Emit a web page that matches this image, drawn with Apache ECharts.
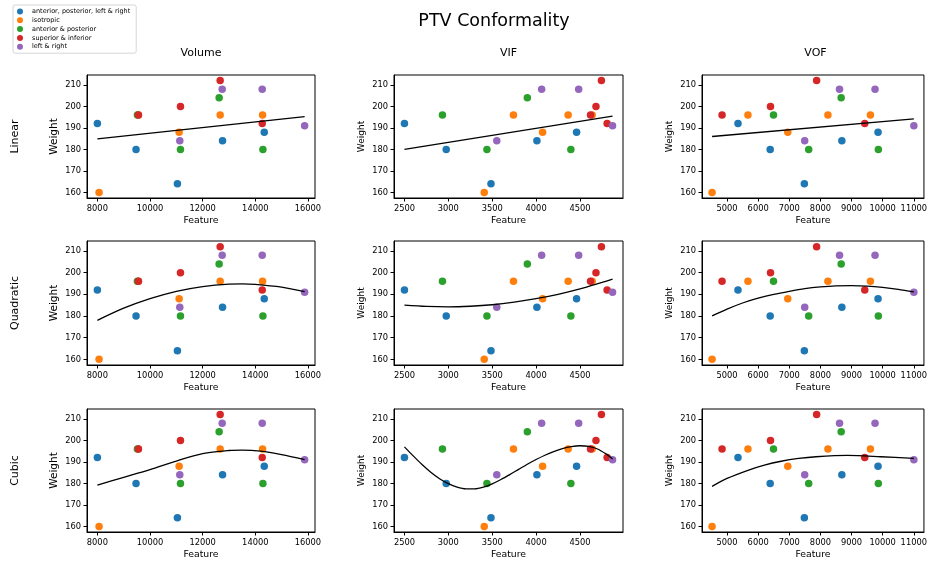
<!DOCTYPE html>
<html><head><meta charset="utf-8">
<script src="https://cdn.jsdelivr.net/npm/echarts@6/dist/echarts.min.js"></script>
<style>html,body{margin:0;padding:0;background:#fff}#c{width:930px;height:563px}</style>
</head><body><div id="c"></div>
<script>
// ---------- data ----------
const classes = ['anterior, posterior, left & right', 'isotropic', 'anterior & posterior', 'superior & inferior', 'left & right'];
const weights = [
  [192, 180, 164, 184, 188],
  [160, 196, 188, 196, 196],
  [196, 180, 204, 180],
  [196, 200, 212, 192],
  [184, 208, 208, 191]
];
const volume = [
  [8000, 9469, 11041, 12755, 14340],
  [8064, 9559, 11106, 12665, 14276],
  [9521, 11157, 12626, 14289],
  [9559, 11157, 12665, 14263],
  [11131, 12742, 14263, 15874]
];
const vif = [
  [2500, 2976, 3486, 4009, 4461],
  [3409, 3742, 4074, 4365, 4639],
  [2933, 3440, 3900, 4396],
  [4620, 4682, 4744, 4809],
  [3552, 4063, 4485, 4871]
];
const vof = [
  [5352, 6386, 7484, 8689, 9851],
  [4520, 5672, 6951, 8241, 9606],
  [6493, 7623, 8667, 9861],
  [4840, 6397, 7878, 9424],
  [7495, 8614, 9755, 11002]
];
const featureNames = ['Volume', 'VIF', 'VOF'];
const fitNames = ['Linear', 'Quadratic', 'Cubic'];
const xTicks = [
  [8000, 10000, 12000, 14000, 16000],
  [2500, 3000, 3500, 4000, 4500],
  [5000, 6000, 7000, 8000, 9000, 10000, 11000]
];
const yTicks = [160, 170, 180, 190, 200, 210];

// fitted curves as [feature, weight] pairs
const linearVolume = [[8000, 184.9], [15874, 195.2]];
const linearVif = [[2500, 180.0], [4871, 195.5]];
const linearVof = [[4520, 186.0], [11002, 194.2]];
const quadVolume = [[8000, 178.0], [9000, 183.6], [10000, 188.0], [11000, 191.4], [12000, 193.6], [13000, 194.7], [13500, 194.8], [14000, 194.6], [15000, 193.3], [15874, 191.2]];
const quadVif = [[2500, 185.0], [2750, 184.4], [3000, 184.2], [3250, 184.5], [3500, 185.2], [3750, 186.4], [4000, 188.0], [4250, 190.0], [4500, 192.5], [4750, 195.5], [4871, 197.0]];
const quadVof = [[4520, 180.1], [5000, 183.2], [5500, 186.0], [6000, 188.2], [6500, 190.0], [7000, 191.4], [7500, 192.6], [8000, 193.4], [8500, 193.9], [9000, 194.0], [9500, 193.8], [10000, 193.2], [10500, 192.3], [11002, 191.1]];
const cubicVolume = [[8000, 179.2], [9000, 182.8], [10000, 186.4], [11000, 190.4], [12000, 193.8], [13000, 195.3], [13500, 195.5], [14200, 195.0], [15000, 193.4], [15874, 191.1]];
const cubicVif = [[2500, 197.0], [2600, 192.8], [2700, 188.8], [2800, 185.2], [2900, 182.2], [3000, 179.9], [3100, 178.3], [3200, 177.5], [3300, 177.5], [3400, 178.3], [3500, 179.8], [3600, 181.8], [3700, 184.1], [3800, 186.5], [3900, 188.9], [4000, 191.1], [4100, 193.1], [4200, 194.8], [4300, 196.2], [4400, 197.1], [4500, 197.5], [4600, 197.2], [4700, 196.0], [4800, 193.6], [4871, 191.4]];
const cubicVof = [[4520, 178.6], [5000, 182.3], [5672, 186.1], [6200, 188.5], [6738, 190.3], [7300, 191.6], [7858, 192.4], [8870, 193.0], [9936, 192.4], [11002, 191.6]];

const features = [volume, vif, vof];
const fits = [
  [linearVolume, linearVif, linearVof],
  [quadVolume, quadVif, quadVof],
  [cubicVolume, cubicVif, cubicVof]
];

// ---------- layout / style ----------
const FONT = 'DejaVu Sans';
const colors = ['#1f77b4', '#ff7f0e', '#2ca02c', '#d62728', '#9467bd'];
const colLeft = [87, 394, 702];
const colWidth = [228, 229, 227];
const rowTop = [75, 241, 409];
const rowHeight = [123, 124, 123];
const xRange = [[7606, 16268], [2381, 4990], [4196, 11326]];
const yRange = [157.4, 214.6];
const plain = v => String(v);

const grid = [], xAxis = [], yAxis = [], series = [];
let gi = 0;
for (let r = 0; r < 3; r++) {
  for (let c = 0; c < 3; c++) {
    grid.push({
      left: colLeft[c], top: rowTop[r], width: colWidth[c], height: rowHeight[r],
      show: true, borderColor: '#000', borderWidth: 1, backgroundColor: 'transparent',
      containLabel: false
    });
    xAxis.push({
      gridIndex: gi, type: 'value', min: xRange[c][0], max: xRange[c][1],
      axisLine: { show: true, onZero: false, lineStyle: { color: '#000', width: 1 } },
      axisTick: { show: true, length: 3.5, customValues: xTicks[c], lineStyle: { color: '#000' } },
      axisLabel: { customValues: xTicks[c], formatter: plain, fontSize: 8.3, color: '#000', margin: 6.5, fontFamily: FONT },
      splitLine: { show: false },
      name: 'Feature', nameLocation: 'middle', nameGap: 18.5,
      nameTextStyle: { fontSize: 9.3, color: '#000', fontFamily: FONT }
    });
    yAxis.push({
      gridIndex: gi, type: 'value', min: yRange[0], max: yRange[1],
      axisLine: { show: true, onZero: false, lineStyle: { color: '#000', width: 1 } },
      axisTick: { show: true, length: 3.5, customValues: yTicks, lineStyle: { color: '#000' } },
      axisLabel: { customValues: yTicks, formatter: plain, fontSize: 8.3, color: '#000', margin: 6, fontFamily: FONT },
      splitLine: { show: false },
      name: 'Weight', nameLocation: 'middle', nameRotate: 90, nameGap: c === 0 ? 27 : 28,
      nameTextStyle: { fontSize: c === 0 ? 10.5 : 9, color: '#000', fontFamily: FONT }
    });
    for (let k = 0; k < classes.length; k++) {
      series.push({
        type: 'scatter', name: classes[k], xAxisIndex: gi, yAxisIndex: gi,
        symbolSize: 7.5, itemStyle: { color: colors[k], opacity: 1 },
        data: features[c][k].map((x, i) => [x, weights[k][i]])
      });
    }
    series.push({
      type: 'line', name: fitNames[r] + ' fit', xAxisIndex: gi, yAxisIndex: gi,
      data: fits[r][c], smooth: 0.3, symbol: 'none',
      lineStyle: { color: '#000', width: 1.3 }, z: 3
    });
    gi++;
  }
}

const graphic = [
  { type: 'text', x: 494, y: 21, style: { text: 'PTV Conformality', font: '17.5px ' + FONT, fill: '#000', textAlign: 'center', textVerticalAlign: 'middle' } }
];
featureNames.forEach((n, c) => {
  graphic.push({ type: 'text', x: colLeft[c] + colWidth[c] / 2, y: 53, style: { text: n, font: '11px ' + FONT, fill: '#000', textAlign: 'center', textVerticalAlign: 'middle' } });
});
fitNames.forEach((n, r) => {
  graphic.push({ type: 'text', x: 15, y: rowTop[r] + rowHeight[r] / 2, rotation: Math.PI / 2, style: { text: n, font: '11px ' + FONT, fill: '#000', textAlign: 'center', textVerticalAlign: 'middle' } });
});

const chart = echarts.init(document.getElementById('c'), null, { renderer: 'canvas' });
chart.setOption({
  animation: false,
  backgroundColor: '#fff',
  color: colors,
  grid, xAxis, yAxis, series, graphic,
  legend: {
    data: classes, orient: 'vertical', left: 13, top: 5,
    itemWidth: 10, itemHeight: 6, itemGap: 1.8, icon: 'circle',
    padding: [3, 6, 3, 4], borderColor: '#ccc', borderWidth: 0.8, borderRadius: 2,
    backgroundColor: '#fff',
    textStyle: { fontSize: 6.5, color: '#000', fontFamily: FONT, padding: [0, 0, 0, 2] },
    selectedMode: false
  }
});
</script>
</body></html>
